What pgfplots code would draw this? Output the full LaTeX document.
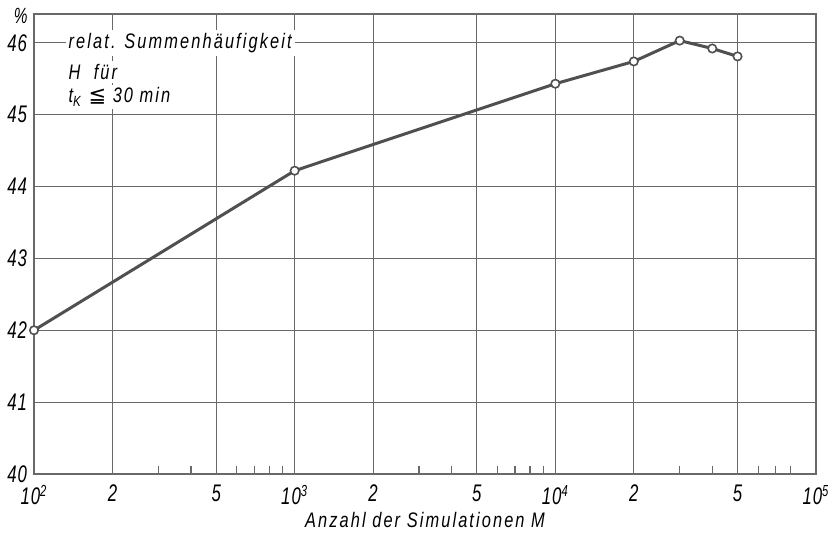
\documentclass[border=0pt]{standalone}
\usepackage{fontspec}
\setmainfont{Liberation Sans}[FakeStretch=0.78,LetterSpace=10]
\newfontfamily\tickfont{Liberation Sans}[FakeStretch=0.7,LetterSpace=4]
\newfontfamily\symfont{DejaVu Sans}
\usepackage{pgfplots}
\pgfplotsset{compat=1.18}
\definecolor{ink}{RGB}{80,80,80}
\definecolor{gridc}{RGB}{105,105,105}

\begin{document}
\begin{tikzpicture}
\begin{axis}[
  scale only axis, width=391pt, height=230pt,
  xmode=log, log basis x=10,
  xmin=100, xmax=100000, ymin=40, ymax=46.4,
  xtick={100,200,500,1000,2000,5000,10000,20000,50000,100000},
  xticklabels={10\textsuperscript{2},2,5,10\textsuperscript{3},2,5,10\textsuperscript{4},2,5,10\textsuperscript{5}},
  minor xtick={},
  extra x ticks={300,400,600,700,800,900,3000,4000,6000,7000,8000,9000,30000,40000,60000,70000,80000},
  extra x tick labels={},
  extra x tick style={grid=none, major tick length=4pt, tick style={gridc, line width=0.6pt}},
  ytick={40,41,42,43,44,45,46},
  grid=major, major grid style={gridc, line width=0.6pt},
  axis line style={gridc, line width=0.7pt},
  major tick length=0pt,
  xtick pos=bottom, ytick pos=left,
  tick label style={font=\fontsize{12}{14}\selectfont\tickfont\itshape},
  xticklabel style={yshift=-2pt},
  /pgf/number format/assume math mode=true,
  xlabel={Anzahl der Simulationen M},
  xlabel style={at={(axis description cs:0.5,-0.1)}, anchor=center, font=\fontsize{10.5}{12}\selectfont\itshape},
  clip=false,
]
\addplot[ink, line width=1.5pt, mark=*, mark size=2.1pt,
  mark options={fill=white, draw=ink, line width=0.8pt, solid}]
  coordinates {(100,42.0) (1000,44.22) (10000,45.43) (20000,45.74) (30000,46.03) (40000,45.92) (50000,45.81)};
\node[anchor=west, fill=white, inner sep=1.5pt, font=\fontsize{10.5}{12}\selectfont\itshape]
  at (rel axis cs:0.04,0.937) {relat. Summenhäufigkeit};
\node[anchor=west, fill=white, inner sep=1.5pt, font=\fontsize{10.5}{12}\selectfont\itshape]
  at (rel axis cs:0.04,0.874) {H\ \ für};
\node[anchor=west, fill=white, inner sep=1.5pt, font=\fontsize{10.5}{12}\selectfont\itshape]
  at (rel axis cs:0.04,0.82) {t\textsubscript{K} {\symfont\upshape ≦} 30 min};
\node[font=\fontsize{11}{12}\selectfont\tickfont\itshape] at (rel axis cs:-0.017,0.996) {\%};
\end{axis}
\pgfresetboundingbox
\path ([shift={(-17pt,-32pt)}]current axis.south west) rectangle ([shift={(6pt,7pt)}]current axis.north east);
\end{tikzpicture}
\end{document}
